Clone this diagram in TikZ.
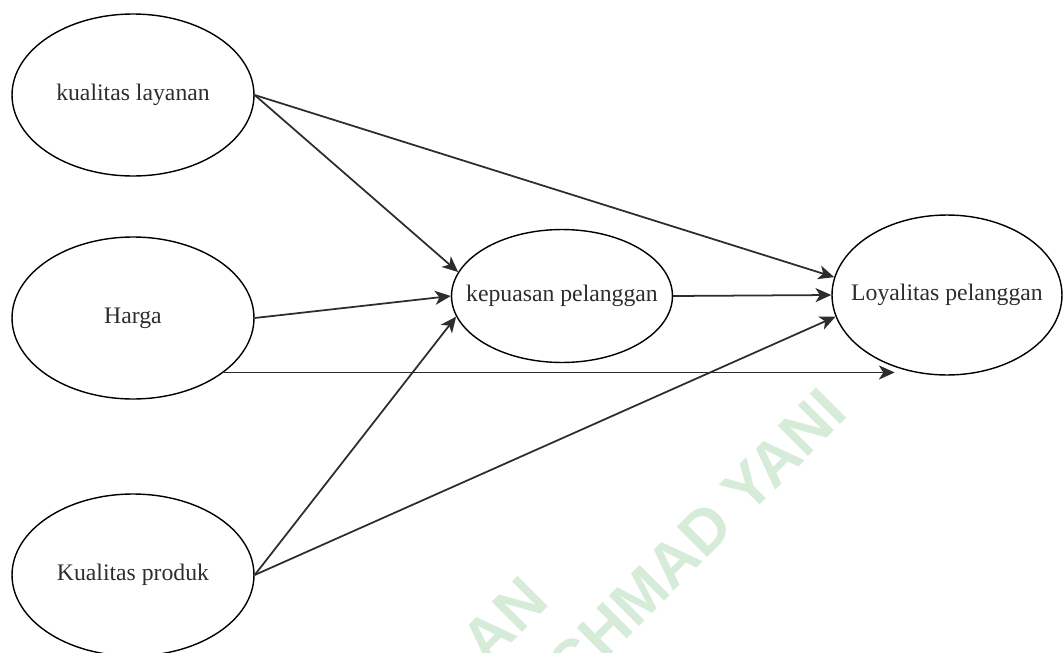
\documentclass[tikz,border=0pt]{standalone}
\usepackage{fontspec}
\setmainfont{Liberation Serif}
\newfontfamily\wmfont{Liberation Sans}
\usetikzlibrary{arrows.meta, shapes.geometric}
\definecolor{ink}{RGB}{45,45,45}
\definecolor{wmgreen}{RGB}{214,236,216}
\newcommand\lbl[1]{\makebox[0pt]{#1}}
\tikzset{
  var/.style  ={ellipse, draw=black, line width=0.8pt, inner sep=0pt, text=ink,
                font=\fontsize{13.5}{16}\selectfont, minimum width=4.84cm, minimum height=3.24cm},
  varm/.style ={var, minimum width=4.42cm, minimum height=2.66cm},
  varl/.style ={var, minimum width=4.6cm, minimum height=3.2cm},
  ar/.style   ={-{Stealth[length=9pt, width=8pt, inset=2.5pt]}, draw=ink, line width=1pt},
  wmtxt/.style={text=wmgreen, font=\wmfont\bfseries\fontsize{35.5}{40}\selectfont,
                rotate=45, inner sep=0pt},
}

\begin{document}
\begin{tikzpicture}[x=0.02cm, y=-0.02cm]
\useasboundingbox (0,0) rectangle (1063,653);
% watermark
\node[wmtxt] (wa) at (504,620) {AN};
\node[wmtxt] (wb) at (696,539) {CHMAD YANI};
% variables
\node[var]  (kl) at (133,95)  {\lbl{kualitas layanan}};
\node[var]  (h)  at (133,318) {\lbl{Harga}};
\node[var]  (kq) at (133,575) {\lbl{Kualitas produk}};
\node[varm] (kp) at (562,296) {\lbl{kepuasan pelanggan}};
\node[varl] (lo) at (947,295) {\lbl{Loyalitas pelanggan}};
% paths
\draw[ar] (kl.east) -- (kp.167);
\draw[ar] (kl.east) -- (lo.171);
\draw[ar] (h.east)  -- (kp.west);
\draw[ar] (h.-31)   -- (h.-31 -| lo.234);
\draw[ar] (kp.east) -- (lo.west);
\draw[ar] (kq.east) -- (kp.191);
\draw[ar] (kq.east) -- (lo.191);
\end{tikzpicture}
\end{document}
